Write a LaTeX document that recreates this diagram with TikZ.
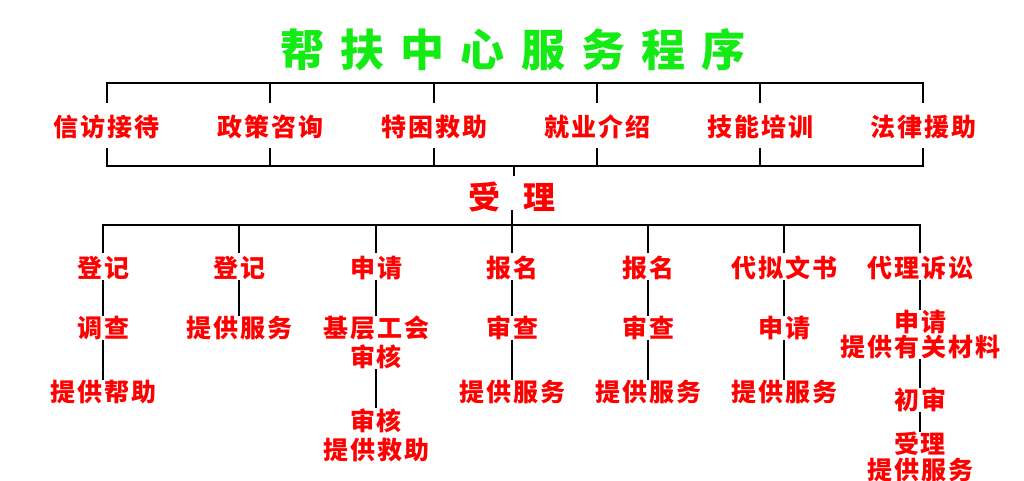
\documentclass[tikz,border=0pt]{standalone}
\usepackage{fontspec}
\newfontfamily\cjk{Noto Sans CJK SC}[LetterSpace=8]
\newfontfamily\cjkacc{Noto Sans CJK SC}[LetterSpace=72]
\newfontfamily\cjktitle{Noto Sans CJK SC}[LetterSpace=37]
\definecolor{tgreen}{RGB}{20,235,20}
\definecolor{tred}{RGB}{255,0,0}
\begin{document}
\begin{tikzpicture}[x=0.5pt,y=-0.5pt,
  lab/.style={text=tred, font={\cjk\bfseries\fontsize{12.5pt}{14.5pt}\selectfont}, inner sep=0pt, outer sep=0pt, align=center},
  labtight/.style={lab, font={\cjk\bfseries\fontsize{12.5pt}{12.5pt}\selectfont}},
  labtighter/.style={lab, font={\cjk\bfseries\fontsize{12.5pt}{11.5pt}\selectfont}},
  ln/.style={draw=black, line width=1pt}]
\useasboundingbox (0,0) rectangle (1024,481);
\fill[white] (0,0) rectangle (1024,481);

% title
\node[text=tgreen, font={\cjktitle\bfseries\fontsize{22pt}{24pt}\selectfont}, inner sep=0pt] (title) at (513,50) {帮扶中心服务程序};

% top row
\coordinate (tb) at (0,83);
\coordinate (tbl) at (0,103);
\coordinate (bb) at (0,166);
\coordinate (bbu) at (0,148);
\node[lab] (t1) at (107,127) {信访接待};
\node[lab] (t2) at (270,127) {政策咨询};
\node[lab] (t3) at (434,127) {特困救助};
\node[lab] (t4) at (597,127) {就业介绍};
\node[lab] (t5) at (760,127) {技能培训};
\node[lab] (t6) at (923,127) {法律援助};

\draw[ln] (t1 |- tbl) -- (t1 |- tb) -- (t6 |- tb) -- (t6 |- tbl);
\foreach \n in {t2,t3,t4,t5} \draw[ln] (\n |- tb) -- (\n |- tbl);
\draw[ln] (t1 |- bbu) -- (t1 |- bb) -- (t6 |- bb) -- (t6 |- bbu);
\foreach \n in {t2,t3,t4,t5} \draw[ln] (\n |- bb) -- (\n |- bbu);

% accept
\node[text=tred, font={\cjkacc\bfseries\fontsize{16pt}{18pt}\selectfont}, inner sep=0pt] (acc) at (512,197) {受理};
\coordinate (accu) at (514,176);
\coordinate (accd) at (512,210);
\coordinate (lb) at (0,225);
\coordinate (lbl) at (0,253);
\draw[ln] (accu |- bb) -- (accu);
\draw[ln] (accd) -- (accd |- lb);

% columns
\node[lab] (a1) at (103,268) {登记};
\node[lab] (a2) at (103,328) {调查};
\node[lab] (a3) at (103,392) {提供帮助};

\node[lab] (b1) at (239,268) {登记};
\node[lab] (b2) at (239,328) {提供服务};

\node[lab] (c1) at (376,268) {申请};
\node[lab] (c2) at (376,342.5) {基层工会\\审核};
\node[lab] (c3) at (376,435) {审核\\提供救助};

\node[lab] (d1) at (512,268) {报名};
\node[lab] (d2) at (512,328) {审查};
\node[lab] (d3) at (512,392) {提供服务};

\node[lab] (e1) at (648,268) {报名};
\node[lab] (e2) at (648,328) {审查};
\node[lab] (e3) at (648,392) {提供服务};

\node[lab] (f1) at (784,268) {代拟文书};
\node[lab] (f2) at (784,328) {申请};
\node[lab] (f3) at (784,392) {提供服务};

\node[lab] (g1) at (920,268) {代理诉讼};
\node[labtight] (g2) at (920,334.5) {申请\\提供有关材料};
\node[lab] (g3) at (920,400) {初审};
\node[labtighter] (g4) at (920,457) {受理\\提供服务};

% lower bar
\draw[ln] (a1 |- lbl) -- (a1 |- lb) -- (g1 |- lb) -- (g1 |- lbl);
\foreach \n in {b1,c1,d1,e1,f1} \draw[ln] (\n |- lb) -- (\n |- lbl);

% column connectors
\draw[ln] (a1) -- (a2);
\draw[ln] (a2) -- (a3);
\draw[ln] (b1) -- (b2);
\draw[ln] (c1) -- (c2);
\draw[ln] (c2) -- (c3);
\draw[ln] (d1) -- (d2);
\draw[ln] (d2) -- (d3);
\draw[ln] (e1) -- (e2);
\draw[ln] (e2) -- (e3);
\draw[ln] (f1) -- (f2);
\draw[ln] (f2) -- (f3);
\draw[ln] (g1) -- (g2);
\draw[ln] (g2) -- (g3);
\draw[ln] (g3) -- (g4);
\end{tikzpicture}
\end{document}
